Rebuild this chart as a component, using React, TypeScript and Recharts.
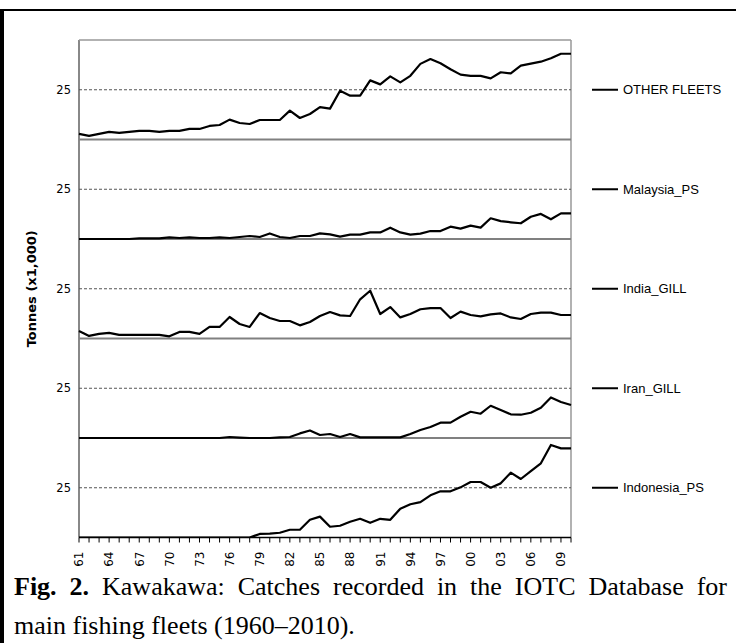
import React from 'react';
import { LineChart, Line, XAxis, YAxis, ReferenceLine } from 'recharts';

// Kawakawa catches by fleet, thousands of tonnes, 1961-2010
const years = [
	1961, 1962, 1963, 1964, 1965, 1966, 1967, 1968, 1969, 1970,
	1971, 1972, 1973, 1974, 1975, 1976, 1977, 1978, 1979, 1980,
	1981, 1982, 1983, 1984, 1985, 1986, 1987, 1988, 1989, 1990,
	1991, 1992, 1993, 1994, 1995, 1996, 1997, 1998, 1999, 2000,
	2001, 2002, 2003, 2004, 2005, 2006, 2007, 2008, 2009, 2010,
];

const xLabels = ['61', '64', '67', '70', '73', '76', '79', '82', '85', '88', '91', '94', '97', '00', '03', '06', '09'];

const otherFleets = [
	2.8, 1.8, 2.8, 3.8, 3.3, 3.8, 4.3, 4.3, 3.8, 4.3,
	4.3, 5.3, 5.3, 6.8, 7.3, 10.0, 8.3, 7.8, 9.8, 9.8,
	9.8, 14.5, 10.8, 12.8, 16.3, 15.5, 24.5, 22.0, 22.0, 29.7,
	27.7, 31.7, 28.7, 32.0, 38.0, 40.4, 38.3, 35.3, 32.6, 32.0,
	32.0, 30.7, 33.8, 33.2, 37.1, 38.1, 39.1, 40.8, 43.1, 43.1,
];

const malaysiaPS = [
	0, 0, 0, 0, 0, 0, 0.3, 0.3, 0.3, 0.8,
	0.5, 0.8, 0.5, 0.5, 0.8, 0.5, 1.0, 1.5, 1.0, 2.8,
	1.0, 0.5, 1.5, 1.5, 2.8, 2.3, 1.2, 2.2, 2.2, 3.3,
	3.3, 5.7, 3.3, 2.2, 2.7, 4.0, 4.0, 6.2, 5.2, 6.7,
	5.7, 10.4, 9.0, 8.4, 7.9, 11.2, 12.6, 9.9, 12.9, 12.9,
];

const indiaGILL = [
	3.8, 1.3, 2.3, 2.8, 1.8, 1.8, 1.8, 1.8, 1.8, 1.1,
	3.3, 3.3, 2.3, 5.8, 5.8, 10.8, 7.3, 5.8, 12.8, 10.3,
	8.8, 8.8, 6.6, 8.3, 11.3, 13.3, 11.6, 11.3, 19.7, 24.0,
	12.3, 15.8, 10.6, 12.3, 14.7, 15.3, 15.3, 10.3, 13.5, 11.8,
	11.1, 12.1, 12.6, 10.6, 9.8, 12.3, 13.0, 13.0, 11.8, 11.8,
];

const iranGILL = [
	0, 0, 0, 0, 0, 0, 0, 0, 0, 0,
	0, 0, 0, 0, 0, 0.5, 0.2, 0, 0, 0,
	0.3, 0.5, 2.3, 3.8, 1.5, 2.0, 0.5, 2.0, 0.3, 0.3,
	0.3, 0.3, 0.3, 2.0, 4.0, 5.5, 7.7, 7.7, 10.7, 13.2,
	12.2, 16.2, 14.1, 11.9, 11.7, 12.7, 15.2, 20.4, 18.1, 16.6,
];

const indonesiaPS = [
	0, 0, 0, 0, 0, 0, 0, 0, 0, 0,
	0, 0, 0, 0, 0, 0, 0, 0, 1.8, 1.9,
	2.4, 3.9, 3.9, 8.9, 10.5, 5.4, 5.9, 7.9, 9.4, 7.4,
	9.4, 8.9, 14.5, 16.7, 17.8, 21.2, 23.2, 23.2, 25.2, 27.9,
	27.9, 25.0, 27.2, 32.6, 29.4, 33.4, 37.3, 46.5, 44.8, 44.8,
];

// one panel per fleet, top to bottom
const fleetNames = ['OTHER FLEETS', 'Malaysia_PS', 'India_GILL', 'Iran_GILL', 'Indonesia_PS'];
const fleetValues = [otherFleets, malaysiaPS, indiaGILL, iranGILL, indonesiaPS];
const panelMax = 50;
const panelTick = 25;

const chartData = years.map((year, i) => {
	const row: Record<string, number> = { year };
	fleetNames.forEach((name, k) => {
		row[name] = fleetValues[k][i];
	});
	return row;
});

const sans = '"Liberation Sans", Arial, sans-serif';
const verdana = '"DejaVu Sans", Verdana, sans-serif';
const serif = '"Liberation Serif", "Times New Roman", serif';

function YearTick(props: any) {
	const { x, y, payload } = props;
	const short = String(payload.value % 100).padStart(2, '0');
	if (!xLabels.includes(short)) return <g />;
	return (
		<text
			transform={`translate(${x},${y + 7}) rotate(-90)`}
			textAnchor="end"
			dy="0.36em"
			fontSize={12}
			fontFamily={verdana}
			fill="#000"
		>
			{short}
		</text>
	);
}

// "25" on the left and the fleet key on the right of each panel's mid line
function PanelLegend(props: any) {
	const { viewBox, name } = props;
	if (!viewBox) return null;
	const left = viewBox.x;
	const right = viewBox.x + viewBox.width;
	const y = viewBox.y;
	return (
		<g>
			<text x={left - 8} y={y} dy="0.36em" textAnchor="end" fontSize={11.5} fontFamily={verdana} fill="#000">
				{panelTick}
			</text>
			<line x1={right + 21} x2={right + 47} y1={y} y2={y} stroke="#000" strokeWidth={2} />
			<text x={right + 52} y={y} dy="0.36em" fontSize={13} fontFamily={sans} fill="#000">
				{name}
			</text>
		</g>
	);
}

function AxisTitle(props: any) {
	const { viewBox } = props;
	if (!viewBox) return null;
	const cx = viewBox.x - 43;
	const cy = viewBox.y + viewBox.height / 2;
	return (
		<text
			transform={`translate(${cx},${cy}) rotate(-90)`}
			textAnchor="middle"
			fontSize={13}
			fontWeight="bold"
			fontFamily={verdana}
			fill="#000"
		>
			Tonnes (x1,000)
		</text>
	);
}

export default function App() {
	return (
		<div
			style={{
				position: 'absolute',
				left: 0,
				top: 0,
				width: 736,
				height: 643,
				overflow: 'hidden',
				background: '#fff',
			}}
		>
			{/* figure frame, only top and left edges are in view */}
			<div
				style={{
					position: 'absolute',
					left: 0,
					top: 9,
					width: 800,
					height: 700,
					borderTop: '2px solid #000',
					borderLeft: '4px solid #000',
				}}
			/>
			<div style={{ position: 'absolute', left: 0, top: 0 }}>
				<LineChart
					width={736}
					height={580}
					data={chartData}
					margin={{ top: 40, right: 165, bottom: 12.5, left: 79 }}
				>
					<XAxis
						dataKey="year"
						type="number"
						domain={[1961, 2010]}
						ticks={years}
						interval={0}
						tickSize={5}
						tickLine={{ stroke: '#000', strokeWidth: 1 }}
						axisLine={{ stroke: '#000', strokeWidth: 1.5 }}
						tick={<YearTick />}
						height={30}
					/>
					{fleetNames.map((name, k) => (
						<YAxis
							key={`axis-${k}`}
							yAxisId={`p${k}`}
							type="number"
							domain={[-(4 - k) * panelMax, (k + 1) * panelMax]}
							allowDataOverflow
							hide
						/>
					))}
					{/* plot frame: left axis, top and right edges */}
					<ReferenceLine
						yAxisId="p0"
						x={1961}
						stroke="#888"
						strokeWidth={2}
						label={<AxisTitle />}
					/>
					<ReferenceLine yAxisId="p0" y={panelMax} stroke="#999" strokeWidth={1.5} />
					<ReferenceLine yAxisId="p0" x={2010} stroke="#999" strokeWidth={1.5} />
					{fleetNames.map((name, k) =>
						k < 4 ? (
							<ReferenceLine
								key={`sep-${k}`}
								yAxisId={`p${k}`}
								y={0}
								stroke="#808080"
								strokeWidth={2}
							/>
						) : null
					)}
					{fleetNames.map((name, k) => (
						<ReferenceLine
							key={`grid-${k}`}
							yAxisId={`p${k}`}
							y={panelTick}
							stroke="#555"
							strokeDasharray="3 2"
							label={<PanelLegend name={name} />}
						/>
					))}
					{fleetNames.map((name, k) => (
						<Line
							key={`line-${k}`}
							yAxisId={`p${k}`}
							dataKey={name}
							type="linear"
							stroke="#000"
							strokeWidth={2.2}
							strokeLinejoin="round"
							dot={false}
							isAnimationActive={false}
						/>
					))}
				</LineChart>
			</div>
			<div
				style={{
					position: 'absolute',
					left: 14,
					top: 567,
					width: 713,
					fontFamily: serif,
					fontSize: 26,
					lineHeight: '39px',
					textAlign: 'justify',
					textAlignLast: 'justify',
					color: '#000',
				}}
			>
				<b>Fig. 2.</b> Kawakawa: Catches recorded in the IOTC Database for
			</div>
			<div
				style={{
					position: 'absolute',
					left: 14,
					top: 606,
					fontFamily: serif,
					fontSize: 26,
					lineHeight: '39px',
					color: '#000',
					whiteSpace: 'nowrap',
				}}
			>
				main fishing fleets (1960–2010).
			</div>
		</div>
	);
}
